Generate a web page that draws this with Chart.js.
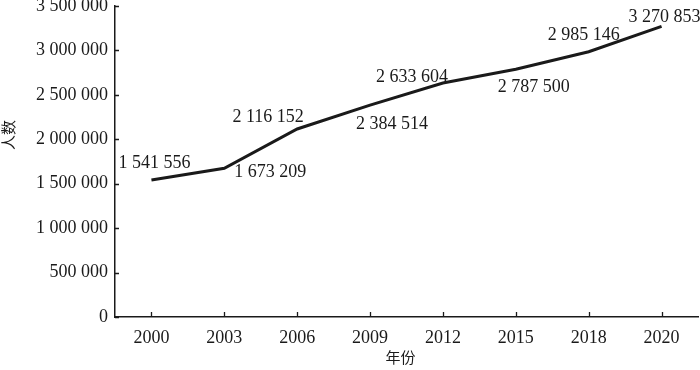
<!DOCTYPE html>
<html>
<head>
<meta charset="utf-8">
<script src="https://cdn.jsdelivr.net/npm/chart.js@4.4.0/dist/chart.umd.min.js"></script>
<style>
html, body { margin: 0; padding: 0; background: #fff; }
#wrap { width: 700px; height: 370px; }
</style>
</head>
<body>
<div id="wrap"><canvas id="diagramm"></canvas></div>
<script>
// Daten
var jahre = ['2000', '2003', '2006', '2009', '2012', '2015', '2018', '2020'];
var personen = [1541556, 1673209, 2116152, 2384514, 2633604, 2787500, 2985146, 3270853];
var yTickWerte = [0, 500000, 1000000, 1500000, 2000000, 2500000, 3000000, 3500000];
var xTitel = '年份';
var yTitel = '人数';

// Versatz der Wertbeschriftungen relativ zum Punkt (nur Stil)
var labelDx = [3, 46, -29, 22, -31, 18, -5, 3];
var labelDy = [-17, 4, -12, 19, -6, 18, -16, -9];

var schrift = '"Liberation Serif", "Times New Roman", "Noto Sans CJK SC", serif';
var farbe = '#1a1a1a';

// Zahlen mit Leerzeichen nach je drei Ziffern
function formatZahl(v) {
    return String(v).replace(/\B(?=(\d{3})+(?!\d))/g, ' ');
}

// Striche nach innen, Wertbeschriftungen und Achsentitel
var extras = {
    id: 'extras',
    afterDatasetsDraw: function(chart) {
        var ctx = chart.ctx;
        var xs = chart.scales.x;
        var ys = chart.scales.y;
        var area = chart.chartArea;
        ctx.save();
        ctx.strokeStyle = farbe;
        ctx.lineWidth = 1.3;
        ctx.beginPath();
        xs.ticks.forEach(function(t, i) {
            var px = Math.round(xs.getPixelForTick(i)) + 0.5;
            ctx.moveTo(px, area.bottom);
            ctx.lineTo(px, area.bottom - 5);
        });
        yTickWerte.forEach(function(v) {
            var py = Math.round(ys.getPixelForValue(v)) + 0.5;
            ctx.moveTo(area.left, py);
            ctx.lineTo(area.left + 4, py);
        });
        ctx.stroke();

        // Wertbeschriftungen
        var meta = chart.getDatasetMeta(0);
        ctx.fillStyle = farbe;
        ctx.font = '18px ' + schrift;
        ctx.textAlign = 'center';
        ctx.textBaseline = 'middle';
        meta.data.forEach(function(p, i) {
            ctx.fillText(formatZahl(personen[i]), p.x + labelDx[i], p.y + labelDy[i]);
        });

        // Achsentitel
        ctx.font = '15px ' + schrift;
        ctx.fillText(xTitel, (area.left + area.right) / 2 - 6, 359);
        ctx.translate(10, area.top + (area.bottom - area.top) * 0.415);
        ctx.rotate(-Math.PI / 2);
        ctx.fillText(yTitel, 0, 0);
        ctx.restore();
    }
};

var ctx = document.getElementById('diagramm').getContext('2d');
var chart = new Chart(ctx, {
    type: 'line',
    data: {
        labels: jahre,
        datasets: [{
            data: personen,
            borderColor: farbe,
            borderWidth: 3,
            pointRadius: 0,
            tension: 0,
            fill: false
        }]
    },
    options: {
        responsive: true,
        maintainAspectRatio: false,
        animation: false,
        layout: {
            padding: { top: 6, right: 2, left: 0, bottom: 0 }
        },
        plugins: {
            legend: { display: false },
            tooltip: { enabled: false }
        },
        scales: {
            x: {
                offset: true,
                grid: { display: false, drawTicks: false },
                border: { display: true, color: farbe, width: 1.5 },
                ticks: {
                    color: farbe,
                    padding: 10,
                    maxRotation: 0,
                    font: { family: schrift, size: 18 }
                },
                afterFit: function(scale) {
                    scale.height = 53;
                    scale.paddingLeft = 0;
                    scale.paddingRight = 0;
                }
            },
            y: {
                min: 0,
                max: 3500000,
                grid: { display: false, drawTicks: false },
                border: { display: true, color: farbe, width: 1.5 },
                afterBuildTicks: function(scale) {
                    scale.ticks = yTickWerte.map(function(v) { return { value: v }; });
                },
                ticks: {
                    color: farbe,
                    padding: 7,
                    font: { family: schrift, size: 18 },
                    callback: function(v) { return formatZahl(v); }
                },
                afterFit: function(scale) {
                    scale.width = 115;
                    scale.paddingTop = 0;
                    scale.paddingBottom = 0;
                }
            }
        }
    },
    plugins: [extras]
});
</script>
</body>
</html>
